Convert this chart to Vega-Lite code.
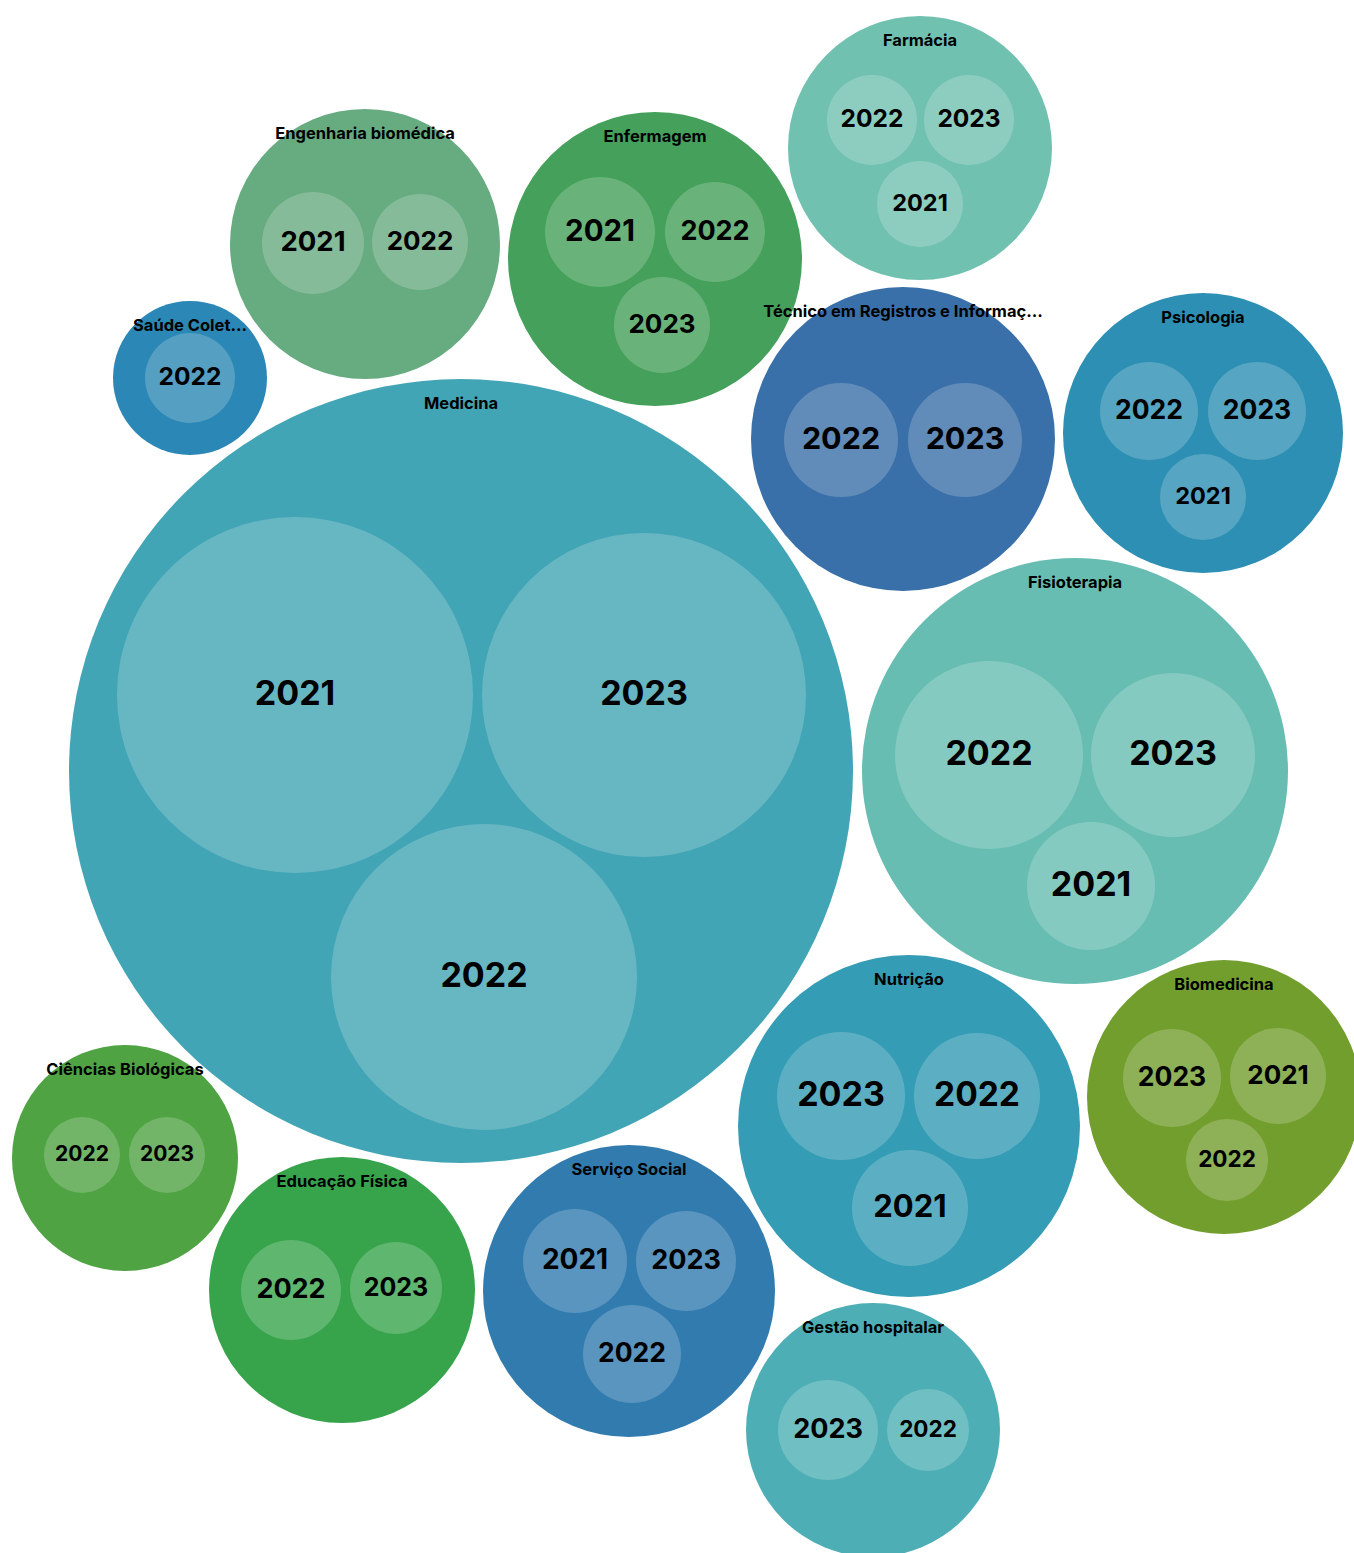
{
  "$schema": "https://vega.github.io/schema/vega-lite/v6.json",
  "width": 1354,
  "height": 1553,
  "padding": 0,
  "autosize": "none",
  "background": "white",
  "config": {"view": {"stroke": null}, "font": "Inter"},
  "datasets": {
    "courses": [
      {"course": "Medicina", "cx": 461, "cy": 771, "value": 153664},
      {"course": "Fisioterapia", "cx": 1075, "cy": 771, "value": 45369},
      {"course": "Nutrição", "cx": 909, "cy": 1126, "value": 29241},
      {"course": "Técnico em Registros e Informaç…", "cx": 903, "cy": 439, "value": 23104},
      {"course": "Psicologia", "cx": 1203, "cy": 433, "value": 19600},
      {"course": "Enfermagem", "cx": 655, "cy": 259, "value": 21609},
      {"course": "Farmácia", "cx": 920, "cy": 148, "value": 17424},
      {"course": "Engenharia biomédica", "cx": 365, "cy": 244, "value": 18225},
      {"course": "Saúde Colet…", "cx": 190, "cy": 378, "value": 5929},
      {"course": "Biomedicina", "cx": 1224, "cy": 1097, "value": 18769},
      {"course": "Ciências Biológicas", "cx": 125, "cy": 1158, "value": 12769},
      {"course": "Educação Física", "cx": 342, "cy": 1290, "value": 17689},
      {"course": "Serviço Social", "cx": 629, "cy": 1291, "value": 21316},
      {"course": "Gestão hospitalar", "cx": 873, "cy": 1430, "value": 16129}
    ],
    "years": [
      {"course": "Medicina", "year": "2021", "cx": 295, "cy": 695, "value": 31684},
      {"course": "Medicina", "year": "2023", "cx": 644, "cy": 695, "value": 26244},
      {"course": "Medicina", "year": "2022", "cx": 484, "cy": 977, "value": 23409},
      {"course": "Fisioterapia", "year": "2022", "cx": 989, "cy": 755, "value": 8836},
      {"course": "Fisioterapia", "year": "2023", "cx": 1173, "cy": 755, "value": 6724},
      {"course": "Fisioterapia", "year": "2021", "cx": 1091, "cy": 886, "value": 4096},
      {"course": "Nutrição", "year": "2023", "cx": 841, "cy": 1096, "value": 4096},
      {"course": "Nutrição", "year": "2022", "cx": 977, "cy": 1096, "value": 3969},
      {"course": "Nutrição", "year": "2021", "cx": 910, "cy": 1208, "value": 3364},
      {"course": "Técnico em Registros e Informaç…", "year": "2022", "cx": 841, "cy": 440, "value": 3249},
      {"course": "Técnico em Registros e Informaç…", "year": "2023", "cx": 965, "cy": 440, "value": 3249},
      {"course": "Psicologia", "year": "2022", "cx": 1149, "cy": 411, "value": 2401},
      {"course": "Psicologia", "year": "2023", "cx": 1257, "cy": 411, "value": 2401},
      {"course": "Psicologia", "year": "2021", "cx": 1203, "cy": 497, "value": 1849},
      {"course": "Enfermagem", "year": "2021", "cx": 600, "cy": 232, "value": 3025},
      {"course": "Enfermagem", "year": "2022", "cx": 715, "cy": 232, "value": 2500},
      {"course": "Enfermagem", "year": "2023", "cx": 662, "cy": 325, "value": 2304},
      {"course": "Farmácia", "year": "2022", "cx": 872, "cy": 120, "value": 2025},
      {"course": "Farmácia", "year": "2023", "cx": 969, "cy": 120, "value": 2025},
      {"course": "Farmácia", "year": "2021", "cx": 920, "cy": 204, "value": 1849},
      {"course": "Engenharia biomédica", "year": "2021", "cx": 313, "cy": 243, "value": 2601},
      {"course": "Engenharia biomédica", "year": "2022", "cx": 420, "cy": 242, "value": 2304},
      {"course": "Saúde Colet…", "year": "2022", "cx": 190, "cy": 378, "value": 2025},
      {"course": "Biomedicina", "year": "2023", "cx": 1172, "cy": 1078, "value": 2401},
      {"course": "Biomedicina", "year": "2021", "cx": 1278, "cy": 1076, "value": 2304},
      {"course": "Biomedicina", "year": "2022", "cx": 1227, "cy": 1160, "value": 1681},
      {"course": "Ciências Biológicas", "year": "2022", "cx": 82, "cy": 1155, "value": 1444},
      {"course": "Ciências Biológicas", "year": "2023", "cx": 167, "cy": 1155, "value": 1444},
      {"course": "Educação Física", "year": "2022", "cx": 291, "cy": 1290, "value": 2500},
      {"course": "Educação Física", "year": "2023", "cx": 396, "cy": 1288, "value": 2116},
      {"course": "Serviço Social", "year": "2021", "cx": 575, "cy": 1261, "value": 2704},
      {"course": "Serviço Social", "year": "2023", "cx": 686, "cy": 1261, "value": 2500},
      {"course": "Serviço Social", "year": "2022", "cx": 632, "cy": 1354, "value": 2401},
      {"course": "Gestão hospitalar", "year": "2023", "cx": 828, "cy": 1430, "value": 2500},
      {"course": "Gestão hospitalar", "year": "2022", "cx": 928, "cy": 1430, "value": 1681}
    ]
  },
  "encoding": {
    "x": {"field": "cx", "type": "quantitative", "axis": null, "scale": {"domain": [0, 1354], "nice": false, "zero": false}},
    "y": {"field": "cy", "type": "quantitative", "axis": null, "scale": {"domain": [0, 1553], "nice": false, "zero": false, "reverse": true}}
  },
  "layer": [
    {
      "data": {"name": "courses"},
      "mark": {"type": "point", "shape": "circle", "filled": true, "opacity": 1, "strokeWidth": 0},
      "encoding": {
        "size": {"field": "value", "type": "quantitative", "legend": null, "scale": {"type": "linear", "domain": [0, 10000], "range": [0, 40000], "nice": false, "zero": true}},
        "color": {"field": "course", "type": "nominal", "legend": null, "scale": {
          "domain": ["Medicina", "Fisioterapia", "Nutrição", "Técnico em Registros e Informaç…", "Psicologia", "Enfermagem", "Farmácia", "Engenharia biomédica", "Saúde Colet…", "Biomedicina", "Ciências Biológicas", "Educação Física", "Serviço Social", "Gestão hospitalar"],
          "range": ["#42A5B5", "#67BDB1", "#349CB5", "#3A70A9", "#2C8FB3", "#44A05A", "#71C1B0", "#67AB80", "#2B87B5", "#729E2E", "#4FA343", "#37A44C", "#317BAF", "#4DAFB5"]
        }}
      }
    },
    {
      "data": {"name": "years"},
      "mark": {"type": "point", "shape": "circle", "filled": true, "color": "white", "opacity": 0.2, "strokeWidth": 0},
      "encoding": {
        "size": {"field": "value", "type": "quantitative", "legend": null, "scale": {"type": "linear", "domain": [0, 10000], "range": [0, 40000], "nice": false, "zero": true}}
      }
    },
    {
      "data": {"name": "years"},
      "mark": {"type": "text", "font": "Inter", "fontWeight": "bold", "color": "black", "align": "center", "baseline": "middle"},
      "encoding": {
        "text": {"field": "year", "type": "nominal"},
        "size": {"field": "value", "type": "quantitative", "legend": null, "scale": {"type": "sqrt", "domain": [1444, 4096], "range": [21, 34], "clamp": true, "nice": false, "zero": false}}
      }
    },
    {
      "data": {"name": "courses"},
      "mark": {"type": "text", "font": "Inter", "fontWeight": "bold", "fontSize": 16.5, "color": "black", "align": "center", "baseline": "middle", "theta": 0},
      "encoding": {
        "text": {"field": "course", "type": "nominal"},
        "radius": {"field": "value", "type": "quantitative", "scale": {"type": "sqrt", "domain": [0, 160000], "range": [-25, 375], "nice": false, "zero": true}}
      }
    }
  ],
  "resolve": {"scale": {"size": "independent", "radius": "independent"}}
}
